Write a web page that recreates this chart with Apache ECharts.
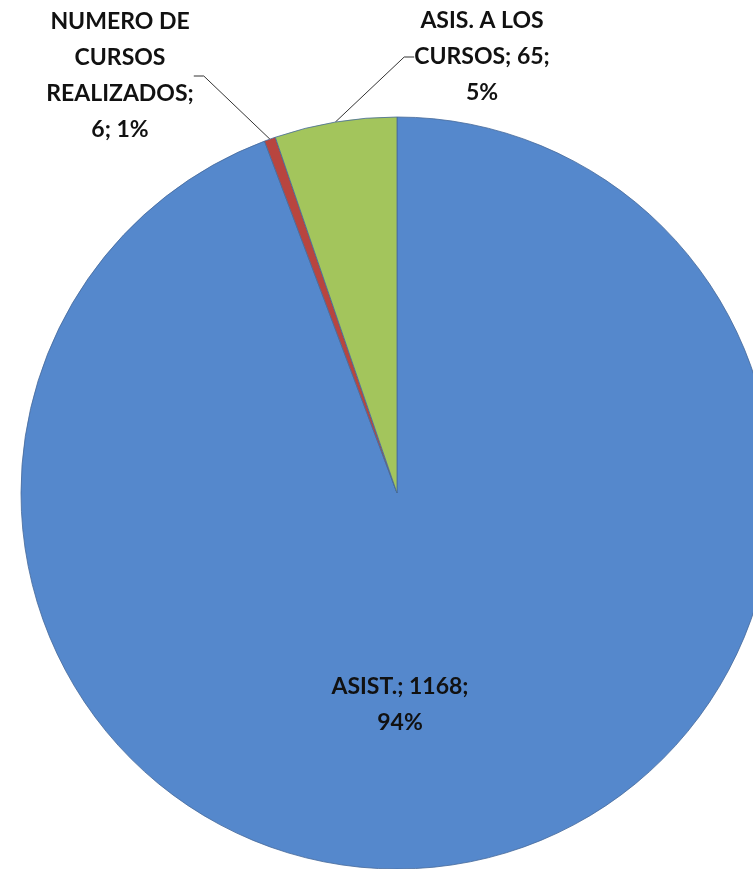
<!DOCTYPE html>
<html><head><meta charset="utf-8">
<script src="https://cdn.jsdelivr.net/npm/echarts@6/dist/echarts.min.js"></script>
<style>html,body{margin:0;padding:0;background:#fff}#c{width:753px;height:869px}</style>
</head><body><div id="c"></div>
<script>
const categories = ['ASIST.', 'NUMERO DE CURSOS REALIZADOS', 'ASIS. A LOS CURSOS'];
const values = [1168, 6, 65];
const percentText = ['94%', '1%', '5%'];
const labelText = ['ASIST.; 1168;\n94%', 'NUMERO DE\nCURSOS\nREALIZADOS;\n6; 1%', 'ASIS. A LOS\nCURSOS; 65;\n5%'];
const colors = ['#5588CC', '#B8453F', '#A3C55C'];
const labelPos = [
  {x: 400, y: 705, align: 'center', verticalAlign: 'middle'},
  {x: 120, y: 76, align: 'center', verticalAlign: 'middle'},
  {x: 482, y: 57, align: 'center', verticalAlign: 'middle'}
];
const chart = echarts.init(document.getElementById('c'));
chart.setOption({
  animation: false,
  series: [{
    type: 'pie',
    center: [397, 493],
    radius: [0, 376],
    startAngle: 90,
    clockwise: true,
    data: categories.map((n, i) => ({
      name: n, value: values[i],
      itemStyle: {color: colors[i]},
      label: {
        position: i === 0 ? 'inside' : 'outside',
        formatter: () => labelText[i]
      },
      labelLine: {show: i !== 0}
    })),
    itemStyle: {borderColor: '#46699a', borderWidth: 0.8},
    label: {
      color: '#111', fontFamily: 'Lato, "Open Sans", sans-serif', fontWeight: 'bold',
      fontSize: 23, lineHeight: 36, overflow: 'none'
    },
    labelLine: {lineStyle: {color: '#333', width: 1}, length: 20, length2: 10},
    labelLayout: function (p) {
      const lp = labelPos[p.dataIndex];
      return {x: lp.x, y: lp.y, align: lp.align, verticalAlign: lp.verticalAlign, moveOverlap: false};
    }
  }]
});
</script></body></html>
